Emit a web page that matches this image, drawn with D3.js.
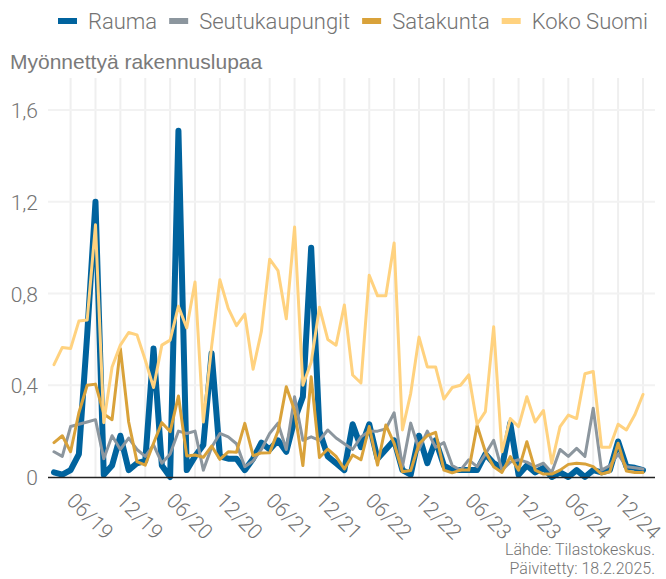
<!DOCTYPE html>
<html>
<head>
<meta charset="utf-8">
<script src="https://cdn.jsdelivr.net/npm/d3@7"></script>
<style>
  body { margin: 0; background: #fff; }
  svg { display: block; }
  text { font-family: Roboto, Lato, sans-serif; font-weight: 300; fill: #737373; }
</style>
</head>
<body>
<div id="chart"></div>
<script>
// months shown on the x axis, first and last data month
var firstMonth = new Date(2019, 3, 1);
var lastMonth = new Date(2025, 2, 1);

var seriesNames = ["Rauma", "Seutukaupungit", "Satakunta", "Koko Suomi"];
var seriesColors = ["#00639e", "#8c969e", "#d9a23a", "#ffd27f"];

var rauma = [0.02, 0.01, 0.03, 0.1, 0.62, 1.2, 0.01, 0.05, 0.18, 0.03, 0.06, 0.07,
  0.56, 0.05, 0.0, 1.51, 0.03, 0.09, 0.14, 0.54, 0.09, 0.08, 0.08, 0.03,
  0.08, 0.15, 0.12, 0.16, 0.11, 0.25, 0.35, 1.0, 0.2, 0.09, 0.06, 0.03,
  0.23, 0.13, 0.23, 0.08, 0.12, 0.16, 0.03, 0.01, 0.18, 0.06, 0.16, 0.05,
  0.03, 0.03, 0.03, 0.03, 0.1, 0.06, 0.04, 0.235, 0.01, 0.05, 0.02, 0.04,
  0.0, 0.02, 0.0, 0.03, 0.0, 0.03, 0.02, 0.03, 0.155, 0.045, 0.04, 0.03];

var seutukaupungit = [0.11, 0.09, 0.22, 0.23, 0.24, 0.25, 0.08, 0.18, 0.12, 0.17, 0.12, 0.09,
  0.14, 0.06, 0.1, 0.2, 0.19, 0.2, 0.03, 0.13, 0.19, 0.175, 0.145, 0.045,
  0.07, 0.12, 0.19, 0.235, 0.12, 0.35, 0.16, 0.175, 0.16, 0.205, 0.17, 0.145,
  0.12, 0.175, 0.2, 0.2, 0.21, 0.28, 0.045, 0.235, 0.12, 0.2, 0.13, 0.15,
  0.05, 0.03, 0.075, 0.045, 0.1, 0.16, 0.03, 0.065, 0.075, 0.065, 0.045, 0.06,
  0.02, 0.12, 0.09, 0.125, 0.09, 0.3, 0.03, 0.05, 0.1, 0.045, 0.04, 0.035];

var satakunta = [0.15, 0.18, 0.11, 0.28, 0.4, 0.405, 0.275, 0.25, 0.56, 0.24, 0.067, 0.052,
  0.147, 0.237, 0.198, 0.353, 0.092, 0.096, 0.086, 0.135, 0.077, 0.11, 0.108, 0.234,
  0.093, 0.105, 0.106, 0.2, 0.394, 0.29, 0.05, 0.437, 0.085, 0.122, 0.09, 0.035,
  0.096, 0.075, 0.22, 0.052, 0.227, 0.147, 0.023, 0.028, 0.145, 0.18, 0.195, 0.03,
  0.018, 0.03, 0.03, 0.225, 0.11, 0.045, 0.02, 0.089, 0.03, 0.154, 0.03, 0.013,
  0.013, 0.03, 0.055, 0.06, 0.057, 0.045, 0.013, 0.023, 0.147, 0.026, 0.02, 0.02];

var kokoSuomi = [0.49, 0.565, 0.56, 0.68, 0.685, 1.1, 0.237, 0.48, 0.575, 0.63, 0.62, 0.51,
  0.39, 0.575, 0.597, 0.745, 0.65, 0.85, 0.24, 0.57, 0.86, 0.735, 0.66, 0.71,
  0.47, 0.635, 0.95, 0.9, 0.69, 1.09, 0.4, 0.5, 0.74, 0.6, 0.575, 0.75,
  0.445, 0.41, 0.88, 0.79, 0.79, 1.02, 0.205, 0.365, 0.61, 0.48, 0.48, 0.34,
  0.39, 0.4, 0.445, 0.23, 0.285, 0.655, 0.11, 0.255, 0.22, 0.35, 0.24, 0.29,
  0.06, 0.22, 0.27, 0.255, 0.45, 0.46, 0.13, 0.13, 0.23, 0.205, 0.27, 0.36];

var yTicks = [0, 0.4, 0.8, 1.2, 1.6];
var yTitle = "Myönnettyä rakennuslupaa";
var sourceLines = ["Lähde: Tilastokeskus.", "Päivitetty: 18.2.2025."];

var width = 666, height = 579;
var months = d3.timeMonth.range(firstMonth, d3.timeMonth.offset(lastMonth, 1));
var allSeries = [rauma, seutukaupungit, satakunta, kokoSuomi];
var lineWidths = [6, 3, 3, 3];

var svg = d3.select("#chart").append("svg")
  .attr("width", width)
  .attr("height", height);

var x = d3.scalePoint()
  .domain(months.map(function(d) { return +d; }))
  .range([54, 643]);

var y = d3.scaleLinear()
  .domain([0, 1.74])
  .range([477, 78]);

var plotLeft = 48, plotRight = 655;

// grid
svg.append("g")
  .selectAll("line")
  .data(months.filter(function(d) { return d.getMonth() % 3 == 2; }))
  .enter().append("line")
  .attr("x1", function(d) { return x(+d); })
  .attr("x2", function(d) { return x(+d); })
  .attr("y1", y.range()[1])
  .attr("y2", y(0))
  .style("stroke", "#efefef")
  .style("stroke-width", 2);

svg.append("g")
  .selectAll("line")
  .data(yTicks.slice(1))
  .enter().append("line")
  .attr("x1", plotLeft)
  .attr("x2", plotRight)
  .attr("y1", function(d) { return y(d); })
  .attr("y2", function(d) { return y(d); })
  .style("stroke", "#f2f2f2")
  .style("stroke-width", 2);

// y labels
var fmt = function(d) { return d3.format(".1~f")(d).replace(".", ","); };
svg.append("g")
  .selectAll("text")
  .data(yTicks)
  .enter().append("text")
  .attr("x", 38)
  .attr("y", function(d) { return y(d) + 8; })
  .attr("text-anchor", "end")
  .style("font-size", "21px")
  .text(fmt);

// x labels
var monthFmt = d3.timeFormat("%m/%y");
svg.append("g")
  .selectAll("text")
  .data(months.filter(function(d) { return d.getMonth() == 5 || d.getMonth() == 11; }))
  .enter().append("text")
  .attr("transform", function(d) { return "translate(" + (x(+d) - 5) + ",502) rotate(45)"; })
  .style("font-size", "21px")
  .text(monthFmt);

// lines
var line = d3.line()
  .x(function(d, i) { return x(+months[i]); })
  .y(function(d) { return y(d); });

svg.append("g")
  .selectAll("path")
  .data(allSeries)
  .enter().append("path")
  .attr("d", line)
  .style("fill", "none")
  .style("stroke", function(d, i) { return seriesColors[i]; })
  .style("stroke-width", function(d, i) { return lineWidths[i]; })
  .style("stroke-linejoin", "round")
  .style("stroke-linecap", "round");

// x axis baseline
svg.append("line")
  .attr("x1", plotLeft)
  .attr("x2", plotRight)
  .attr("y1", y(0) + 0.5)
  .attr("y2", y(0) + 0.5)
  .style("stroke", "#222")
  .style("stroke-width", 1.5);

// title
svg.append("text")
  .attr("x", 10)
  .attr("y", 69)
  .style("font-family", "'Liberation Sans', Arial, sans-serif")
  .style("font-weight", 400)
  .style("font-size", "21px")
  .style("fill", "#7a7a7a")
  .text(yTitle);

// legend
var legend = svg.append("g");
var lx = 58;
seriesNames.forEach(function(name, i) {
  legend.append("rect")
    .attr("x", lx)
    .attr("y", 18)
    .attr("width", 19)
    .attr("height", 6)
    .style("fill", seriesColors[i]);
  var t = legend.append("text")
    .attr("x", lx + 30)
    .attr("y", 29)
    .style("font-size", "22px")
    .text(name);
  lx = lx + 30 + t.node().getComputedTextLength() + 12;
});

// source
svg.append("g")
  .selectAll("text")
  .data(sourceLines)
  .enter().append("text")
  .attr("x", 655)
  .attr("y", function(d, i) { return 555 + i * 19; })
  .attr("text-anchor", "end")
  .style("font-size", "16px")
  .text(function(d) { return d; });
</script>
</body>
</html>
